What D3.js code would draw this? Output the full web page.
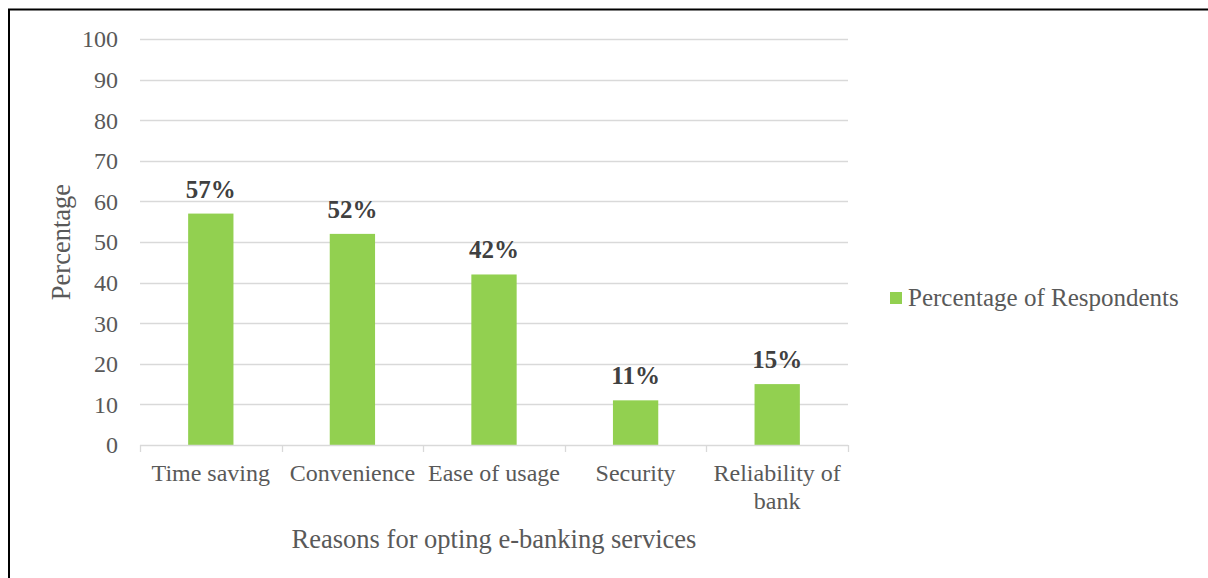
<!DOCTYPE html>
<html>
<head>
<meta charset="utf-8">
<script src="https://cdn.jsdelivr.net/npm/d3@7/dist/d3.min.js"></script>
<style>
  html, body { margin: 0; padding: 0; background: #fff; }
  svg { display: block; font-family: "Liberation Serif", "Times New Roman", serif; }
</style>
</head>
<body>
<svg id="chart" width="1208" height="578"></svg>
<script>
// Reasons for opting e-banking services
const categories = ["Time saving", "Convenience", "Ease of usage", "Security", "Reliability of bank"];
const values = [57, 52, 42, 11, 15];
const yTicks = [0, 10, 20, 30, 40, 50, 60, 70, 80, 90, 100];
const seriesName = "Percentage of Respondents";

const svg = d3.select("#chart");
const plot = { left: 140, right: 848, top: 39, bottom: 445 };
const barColor = "#92d050";
const gridColor = "#d9d9d9";
const labelColor = "#595959";
const serif = "Liberation Serif, serif";

// Outer frame
svg.append("rect")
  .attr("x", 9).attr("y", 9.5)
  .attr("width", 1300).attr("height", 700)
  .attr("fill", "none").attr("stroke", "#000").attr("stroke-width", 2);

const x = d3.scaleBand().domain(categories).range([plot.left, plot.right]).paddingInner(0).paddingOuter(0);
const y = d3.scaleLinear().domain([0, 100]).range([plot.bottom, plot.top]);

// Horizontal gridlines
svg.append("g").selectAll("line").data(yTicks.filter(d => d > 0)).join("line")
  .attr("x1", plot.left).attr("x2", plot.right)
  .attr("y1", d => Math.round(y(d)) + 0.5).attr("y2", d => Math.round(y(d)) + 0.5)
  .attr("stroke", gridColor).attr("stroke-width", 1.3);

// Y axis labels
const yAxis = d3.axisLeft(y).tickValues(yTicks).tickSize(0).tickPadding(22);
const gy = svg.append("g").attr("transform", `translate(${plot.left},0)`).call(yAxis);
gy.select(".domain").remove();
gy.selectAll("text")
  .attr("font-family", serif)
  .attr("font-size", 24).attr("fill", labelColor).attr("dy", "0.33em");

// Bars
const barW = x.bandwidth() * 0.32;
svg.append("g").selectAll("rect").data(values).join("rect")
  .attr("x", (d, i) => x(categories[i]) + (x.bandwidth() - barW) / 2)
  .attr("y", d => y(d))
  .attr("width", barW)
  .attr("height", d => y(0) - y(d))
  .attr("fill", barColor);

// Category axis with boundary tick marks
const ax = svg.append("g");
ax.append("line")
  .attr("x1", plot.left).attr("x2", plot.right)
  .attr("y1", plot.bottom + 0.5).attr("y2", plot.bottom + 0.5)
  .attr("stroke", gridColor).attr("stroke-width", 1.3);
const bounds = categories.map(c => x(c)).concat([plot.right]);
ax.selectAll("line.tick").data(bounds).join("line").attr("class", "tick")
  .attr("x1", d => Math.round(d) + 0.5).attr("x2", d => Math.round(d) + 0.5)
  .attr("y1", plot.bottom).attr("y2", plot.bottom + 7)
  .attr("stroke", gridColor).attr("stroke-width", 1.3);

// Category labels (long names wrap onto two lines)
const wrapLines = { "Reliability of bank": ["Reliability of", "bank"] };
categories.forEach(c => {
  const lines = wrapLines[c] || [c];
  const cx = x(c) + x.bandwidth() / 2;
  const t = svg.append("text")
    .attr("x", cx)
    .attr("y", 481)
    .attr("text-anchor", "middle")
    .attr("font-size", 24).attr("fill", labelColor);
  lines.forEach((ln, k) => {
    t.append("tspan").attr("x", cx).attr("dy", k === 0 ? 0 : 28).text(ln);
  });
});

// Value labels
svg.append("g").selectAll("text").data(values).join("text")
  .attr("x", (d, i) => x(categories[i]) + x.bandwidth() / 2)
  .attr("y", d => y(d) - 16)
  .attr("text-anchor", "middle")
  .attr("font-size", 25).attr("font-weight", "bold").attr("fill", "#404040")
  .text(d => d + "%");

// Axis titles
svg.append("text")
  .attr("transform", `translate(70,${(plot.top + plot.bottom) / 2}) rotate(-90)`)
  .attr("text-anchor", "middle")
  .attr("font-size", 26.5).attr("fill", labelColor)
  .text("Percentage");

svg.append("text")
  .attr("x", 494).attr("y", 548)
  .attr("text-anchor", "middle")
  .attr("font-size", 26.5).attr("fill", labelColor)
  .text("Reasons for opting e-banking services");

// Legend
const lg = svg.append("g").attr("transform", "translate(890,292)");
lg.append("rect").attr("width", 12).attr("height", 12).attr("fill", barColor);
lg.append("text").attr("x", 18).attr("y", 14)
  .attr("font-size", 25).attr("fill", labelColor)
  .text(seriesName);
</script>
</body>
</html>
